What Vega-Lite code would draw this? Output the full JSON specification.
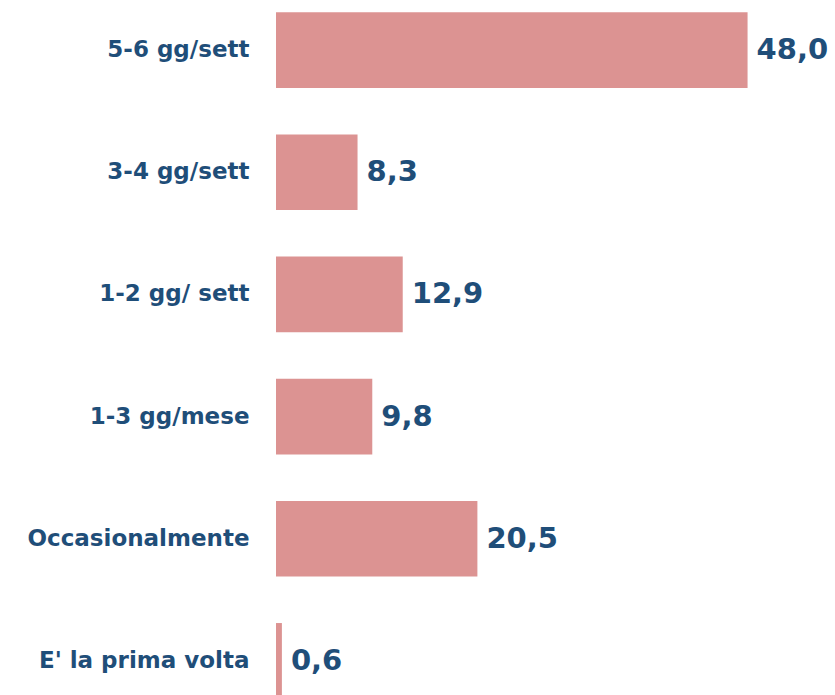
{
  "$schema": "https://vega.github.io/schema/vega-lite/v6.json",
  "autosize": "none",
  "padding": {"left": 276, "top": 0, "right": 0, "bottom": 0},
  "width": 559,
  "height": 695,
  "background": "white",
  "config": {"view": {"stroke": null}},
  "data": {"values": [
    {"cat": "5-6 gg/sett", "val": 48.0, "lab": "48,0"},
    {"cat": "3-4 gg/sett", "val": 8.3, "lab": "8,3"},
    {"cat": "1-2 gg/ sett", "val": 12.9, "lab": "12,9"},
    {"cat": "1-3 gg/mese", "val": 9.8, "lab": "9,8"},
    {"cat": "Occasionalmente", "val": 20.5, "lab": "20,5"},
    {"cat": "E' la prima volta", "val": 0.6, "lab": "0,6"}
  ]},
  "encoding": {
    "y": {"field": "cat", "type": "nominal", "sort": null,
      "scale": {"range": [0, 711], "paddingInner": 0.38, "paddingOuter": 0.1},
      "axis": {"title": null, "domain": false, "ticks": false, "labelPadding": 27,
        "labelFont": "DejaVu Sans", "labelFontWeight": "bold", "labelFontSize": 23,
        "labelColor": "#1F4E79", "labelLimit": 300}},
    "x": {"field": "val", "type": "quantitative",
      "scale": {"domain": [0, 56.9], "nice": false, "zero": true},
      "axis": null}
  },
  "layer": [
    {"mark": {"type": "bar", "color": "#DC9392", "clip": false}},
    {"mark": {"type": "text", "align": "left", "baseline": "middle", "dx": 9,
      "font": "DejaVu Sans", "fontWeight": "bold", "fontSize": 29, "color": "#1F4E79"},
     "encoding": {"text": {"field": "lab"}}}
  ]
}
